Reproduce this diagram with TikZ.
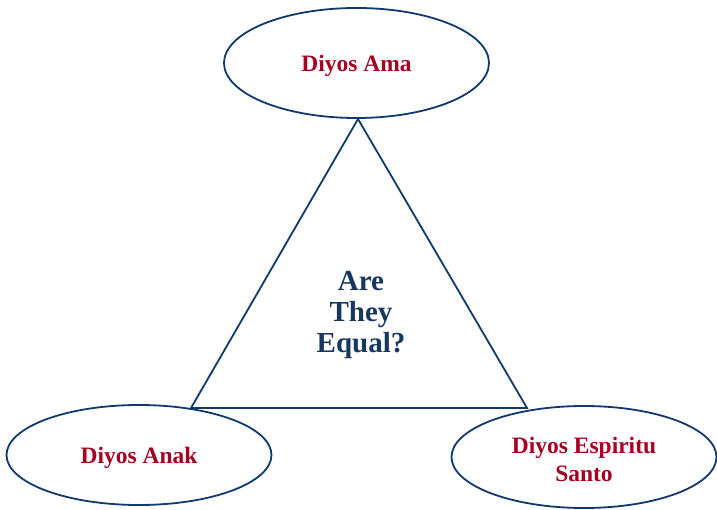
\documentclass[tikz,border=0pt]{standalone}
\usepackage{fontspec}
\setmainfont{Liberation Serif}
\usetikzlibrary{shapes.geometric}
\definecolor{lineblue}{HTML}{0F3A6B}
\definecolor{textred}{HTML}{A50021}
\definecolor{textblue}{HTML}{17375E}
\tikzset{
  person/.style={ellipse, draw=lineblue, line width=1.8pt, fill=white, inner sep=0pt,
    minimum width=265pt},
  personlabel/.style={text=textred, font=\bfseries\fontsize{23.5}{28}\selectfont, align=center, inner sep=0pt},
  tri/.style={draw=lineblue, line width=1.8pt, line join=miter}
}
\begin{document}
\begin{tikzpicture}[x=1pt,y=-1pt]
\useasboundingbox (0,0) rectangle (717,510);
\coordinate (apex) at (358,119);
\coordinate (bl) at (191,408);
\coordinate (br) at (527,408);
\draw[tri] (apex) -- (bl) -- (br) -- cycle;
\node[person, minimum height=110pt] (ama) at (356.5,63) {};
\node[person, minimum height=100pt] (anak) at (139,455) {};
\node[person, minimum height=102pt] (espiritu) at (584,457) {};
\node[personlabel] (amat) at ([yshift=-3pt]ama.center) {Diyos Ama};
\node[personlabel] (anakt) at ([yshift=-3pt]anak.center) {Diyos Anak};
\node[personlabel] (espiritut) at ([yshift=-2pt]espiritu.center) {Diyos Espiritu\\Santo};
\node[text=textblue, font=\bfseries\fontsize{29}{31}\selectfont, align=center] (q) at (361,315) {Are\\They\\Equal?};
\end{tikzpicture}
\end{document}
